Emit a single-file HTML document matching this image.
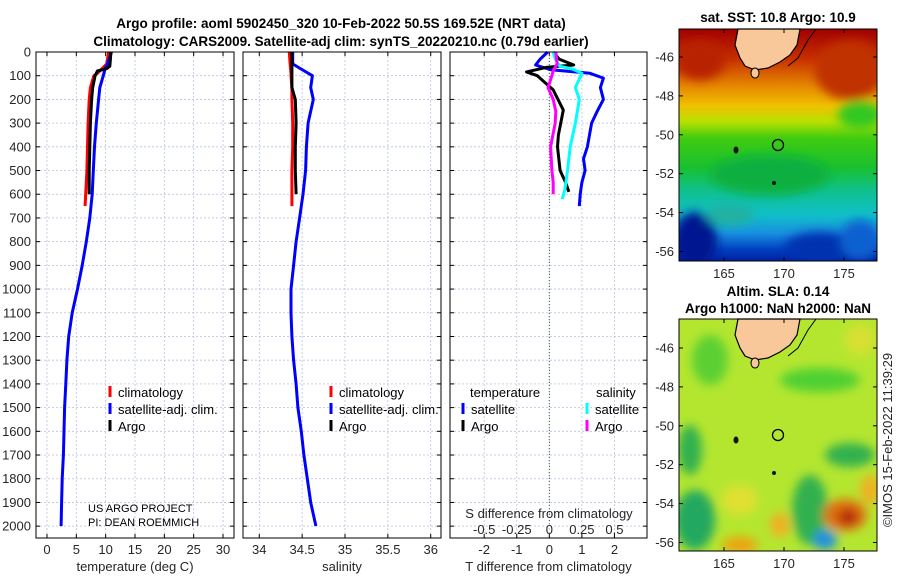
<!DOCTYPE html>
<html><head><meta charset="utf-8">
<style>
body{margin:0;background:#fff;}
svg{display:block;font-family:"Liberation Sans",sans-serif;}
.tk{font-size:13px;fill:#262626;}
.ttl{font-size:13.5px;font-weight:bold;fill:#000;}
.lg{font-size:13px;fill:#000;}
</style></head>
<body>
<svg id="fig" width="900" height="580" viewBox="0 0 900 580">
<defs>
<linearGradient id="sstg" x1="0" y1="0" x2="0" y2="1">
<stop offset="0" stop-color="#a00000"/><stop offset="0.13" stop-color="#c83000"/>
<stop offset="0.24" stop-color="#e48400"/><stop offset="0.33" stop-color="#f0c000"/>
<stop offset="0.40" stop-color="#b8e000"/><stop offset="0.47" stop-color="#40cc10"/>
<stop offset="0.60" stop-color="#18c030"/><stop offset="0.70" stop-color="#10c090"/>
<stop offset="0.80" stop-color="#10c0c8"/><stop offset="0.88" stop-color="#1890e0"/>
<stop offset="0.95" stop-color="#0040c0"/><stop offset="1" stop-color="#0020a0"/>
</linearGradient>
<filter id="blur"><feGaussianBlur stdDeviation="5"/></filter>
<clipPath id="cm1"><rect x="679" y="29" width="198" height="232"/></clipPath>
<clipPath id="cm2"><rect x="679" y="319" width="198" height="232"/></clipPath>
</defs>
<text class="ttl" x="341" y="28" text-anchor="middle">Argo profile: aoml 5902450_320 10-Feb-2022 50.5S 169.52E (NRT data)</text>
<text class="ttl" x="341" y="46" text-anchor="middle">Climatology: CARS2009. Satellite-adj clim: synTS_20220210.nc (0.79d earlier)</text>
<g id="panels"></g>

<!-- SST map -->
<g>
<text class="ttl" x="778" y="22" text-anchor="middle">sat. SST: 10.8 Argo: 10.9</text>
<g clip-path="url(#cm1)">
<rect x="679" y="29" width="198" height="232" fill="url(#sstg)"/>
<g filter="url(#blur)">
<ellipse cx="850" cy="70" rx="35" ry="30" fill="#c03000"/>
<ellipse cx="700" cy="60" rx="25" ry="20" fill="#b82000"/>
<ellipse cx="860" cy="115" rx="22" ry="14" fill="#30c820"/>
<ellipse cx="695" cy="240" rx="22" ry="28" fill="#001890"/>
<ellipse cx="820" cy="248" rx="35" ry="16" fill="#0030b0"/>
<ellipse cx="860" cy="240" rx="20" ry="20" fill="#1060d0"/>
<ellipse cx="770" cy="175" rx="60" ry="20" fill="#10b040"/>
<ellipse cx="730" cy="215" rx="25" ry="10" fill="#20b0a0"/>
</g>
</g>
<path d="M738,29 L800,29 L797,45 L790,55 L780,62 L768,68 L755,70 L745,66 L740,58 L735,45 Z" fill="#f9c89a" stroke="#000" stroke-width="1.2"/>
<path d="M800,29 L816,29 L808,40 L798,58 L788,66" fill="none" stroke="#000" stroke-width="1"/>
<ellipse cx="755" cy="73" rx="4" ry="5" fill="#f9c89a" stroke="#000"/>
<ellipse cx="736" cy="150" rx="2.5" ry="3.5" fill="#111"/>
<circle cx="774" cy="183" r="2" fill="#111"/>
<circle cx="778" cy="145" r="5.5" fill="none" stroke="#000" stroke-width="1.3"/>
<rect x="679" y="29" width="198" height="232" fill="none" stroke="#000" stroke-width="1"/>
</g>

<!-- SLA map -->
<g>
<text class="ttl" x="778" y="296" text-anchor="middle">Altim. SLA: 0.14</text>
<text class="ttl" x="778" y="313" text-anchor="middle">Argo h1000: NaN h2000: NaN</text>
<g clip-path="url(#cm2)">
<rect x="679" y="319" width="198" height="232" fill="#b4e630"/>
<g filter="url(#blur)">
<ellipse cx="710" cy="360" rx="18" ry="25" fill="#5cd030"/>
<ellipse cx="820" cy="380" rx="40" ry="12" fill="#50d030"/>
<ellipse cx="860" cy="340" rx="15" ry="15" fill="#d8e030"/>
<ellipse cx="690" cy="450" rx="12" ry="25" fill="#30b050"/>
<ellipse cx="695" cy="520" rx="20" ry="30" fill="#20a860"/>
<ellipse cx="850" cy="455" rx="25" ry="12" fill="#30b050"/>
<ellipse cx="810" cy="510" rx="18" ry="35" fill="#30b050"/>
<ellipse cx="845" cy="515" rx="22" ry="16" fill="#e07010"/>
<ellipse cx="848" cy="517" rx="10" ry="8" fill="#b02008"/>
<ellipse cx="825" cy="540" rx="12" ry="10" fill="#2090e0"/>
<ellipse cx="740" cy="545" rx="18" ry="8" fill="#f0a010"/>
<ellipse cx="780" cy="525" rx="10" ry="12" fill="#f0b020"/>
<ellipse cx="870" cy="490" rx="10" ry="15" fill="#f0b020"/>
<ellipse cx="740" cy="500" rx="18" ry="15" fill="#e0e030"/>
</g>
</g>
<path d="M738,319 L800,319 L797,335 L790,345 L780,352 L768,358 L755,360 L745,356 L740,348 L735,335 Z" fill="#f9c89a" stroke="#000" stroke-width="1.2"/>
<path d="M800,319 L816,319 L808,330 L798,348 L788,356" fill="none" stroke="#000" stroke-width="1"/>
<ellipse cx="755" cy="363" rx="4" ry="5" fill="#f9c89a" stroke="#000"/>
<ellipse cx="736" cy="440" rx="2.5" ry="3.5" fill="#111"/>
<circle cx="774" cy="473" r="2" fill="#111"/>
<circle cx="778" cy="435" r="5.5" fill="none" stroke="#000" stroke-width="1.3"/>
<rect x="679" y="319" width="198" height="232" fill="none" stroke="#000" stroke-width="1"/>
</g>
<text class="tk" transform="translate(892,440) rotate(-90)" text-anchor="middle">©IMOS 15-Feb-2022 11:39:29</text>
<g id="maps-axes"></g>
</svg>
<script>
// ---- data ----
const depthTicks=[0,100,200,300,400,500,600,700,800,900,1000,1100,1200,1300,1400,1500,1600,1700,1800,1900,2000];
const tempTicks=[0,5,10,15,20,25,30];
const salTicks=[34,34.5,35,35.5,36];
const salTickLabels=["34","34.5","35","35.5","36"];
const dTTicks=[-2,-1,0,1,2];
const dSTickLabels=["-0.5","-0.25","0","0.25","0.5"];
const dSTicks=[-0.5,-0.25,0,0.25,0.5];

const argoDepth=[0,30,60,70,80,100,150,200,300,400,500,600];
const argoTemp=[10.9,10.8,10.7,10.2,8.6,8.2,7.8,7.6,7.4,7.3,7.2,7.2];
const argoSal=[34.38,34.38,34.38,34.38,34.38,34.38,34.38,34.42,34.43,34.42,34.42,34.43];
const climDepth=[0,50,90,100,150,200,300,400,500,600,650];
const climTemp=[10.5,10.2,8.6,8.0,7.4,7.2,7.0,6.9,6.8,6.6,6.5];
const climSal=[34.35,34.36,34.37,34.37,34.38,34.38,34.39,34.39,34.38,34.38,34.38];
const satDepth=[0,50,70,100,150,200,300,400,500,600,700,800,900,1000,1100,1200,1300,1400,1500,1600,1700,1800,1900,2000];
const satTemp=[11.0,10.3,9.9,9.6,9.0,8.8,8.4,8.1,7.9,7.7,7.3,6.7,6.0,5.2,4.3,3.7,3.4,3.2,3.0,2.9,2.8,2.6,2.5,2.4];
const satSal=[34.39,34.39,34.48,34.62,34.60,34.63,34.57,34.55,34.54,34.51,34.47,34.43,34.40,34.37,34.37,34.38,34.40,34.43,34.45,34.49,34.52,34.56,34.60,34.66];

const dDepthA=[0,30,55,65,84,100,160,245,350,400,500,550,590];
const dTArgo=[0.12,0.3,0.75,-0.1,-0.7,-0.37,0.12,0.43,0.28,0.25,0.33,0.5,0.6];
const dDepthS=[0,30,55,75,90,110,150,200,250,300,400,450,500,550,600,650];
const dTSat=[-0.05,-0.28,-0.42,0.05,1.25,1.66,1.57,1.66,1.47,1.3,1.17,1.05,1.1,1.0,0.95,0.92];
const dSDepthS=[0,30,60,72,90,150,200,300,400,500,580,620];
const dSSat=[0.03,0.045,0.08,0.18,0.25,0.2,0.23,0.2,0.16,0.14,0.12,0.1];
const dSDepthA=[0,50,80,100,150,200,250,300,400,500,550,600];
const dSArgo=[0.05,0.06,0.03,0.02,-0.01,0.03,0.05,0.045,0.01,0.02,0.03,0.03];

const latTicks=[-46,-48,-50,-52,-54,-56];
const lonTicks=[165,170,175];

// ---- helpers ----
const NS="http://www.w3.org/2000/svg";
const root=document.getElementById('panels');
function el(tag,attrs,parent){const e=document.createElementNS(NS,tag);for(const k in attrs)e.setAttribute(k,attrs[k]);(parent||root).appendChild(e);return e;}
const Y0=52,Y1=538,DMAX=2050;
const yD=d=>Y0+d*(Y1-Y0)/DMAX;
function mkX(x0,x1,v0,v1){return v=>x0+(v-v0)*(x1-x0)/(v1-v0);}
const panels=[
 {x0:36,x1:234,v0:-1.87,v1:31.87,ticks:tempTicks,labels:tempTicks.map(String),xl:"temperature (deg C)",name:"temperature-panel"},
 {x0:243,x1:441,v0:33.81,v1:36.12,ticks:salTicks,labels:salTickLabels,xl:"salinity",name:"salinity-panel"},
 {x0:450,x1:647,v0:-3.05,v1:3.0,ticks:dTTicks,labels:dTTicks.map(String),xl:"T difference from climatology",name:"difference-panel"}
];
panels.forEach((p,i)=>{
 p.x=mkX(p.x0,p.x1,p.v0,p.v1);
 const g=el('g',{});
 
 
 p.g=g;
 el('rect',{x:p.x0,y:Y0,width:p.x1-p.x0,height:Y1-Y0,fill:'#fff'},g);
 depthTicks.forEach(d=>{el('line',{x1:p.x0,x2:p.x1,y1:yD(d),y2:yD(d),stroke:'#b8c0e0','stroke-width':0.8,'stroke-dasharray':'2,2'},g);
   el('line',{x1:p.x0,x2:p.x0+4,y1:yD(d),y2:yD(d),stroke:'#000'},g);el('line',{x1:p.x1,x2:p.x1-4,y1:yD(d),y2:yD(d),stroke:'#000'},g);});
 p.ticks.forEach((t,j)=>{const x=p.x(t);
   el('line',{x1:x,x2:x,y1:Y0,y2:Y1,stroke:'#b8c0e0','stroke-width':0.8,'stroke-dasharray':'2,2'},g);
   el('line',{x1:x,x2:x,y1:Y1,y2:Y1-4,stroke:'#000'},g);el('line',{x1:x,x2:x,y1:Y0,y2:Y0+4,stroke:'#000'},g);
   const t2=el('text',{x:x,y:554,'text-anchor':'middle',class:'tk'},g);t2.textContent=p.labels[j];
   
   });
 const xl=el('text',{x:(p.x0+p.x1)/2,y:571,'text-anchor':'middle',class:'tk'},g);xl.textContent=p.xl;
 
 
});
depthTicks.forEach(d=>{const t=el('text',{x:31,y:yD(d)+4.5,'text-anchor':'end',class:'tk'});t.textContent=d;
 
 });

function line(p,vals,depths,color,name,xf){
 const f=xf||p.x;
 const pts=vals.map((v,i)=>f(v).toFixed(1)+','+yD(depths[i]).toFixed(1)).join(' ');
 const pl=el('polyline',{points:pts,fill:'none',stroke:color,'stroke-width':3,'stroke-linejoin':'round'},p.g);
 
 
}
const [pT,pS,pD]=panels;
line(pT,climTemp,climDepth,'#ff0000','temp-climatology-line');
line(pT,satTemp,satDepth,'#0000ff','temp-satellite-line');
line(pT,argoTemp,argoDepth,'#000','temp-argo-line');
line(pS,climSal,climDepth,'#ff0000','sal-climatology-line');
line(pS,satSal,satDepth,'#0000ff','sal-satellite-line');
line(pS,argoSal,argoDepth,'#000','sal-argo-line');
const zx=pD.x(0);
el('line',{x1:zx,x2:zx,y1:Y0,y2:yD(1990),stroke:'#406040','stroke-width':1,'stroke-dasharray':'1,2'},pD.g);
const xS=v=>pD.x(v*4);
line(pD,dTSat,dDepthS,'#0000ff','dT-satellite-line');
line(pD,dTArgo,dDepthA,'#000','dT-argo-line');
line(pD,dSSat,dSDepthS,'#00ffff','dS-satellite-line',xS);
line(pD,dSArgo,dSDepthA,'#ff00ff','dS-argo-line',xS);
panels.forEach(p=>el('rect',{x:p.x0,y:Y0,width:p.x1-p.x0,height:Y1-Y0,fill:'none',stroke:'#000','stroke-width':1},p.g));
// S axis inside diff panel
const st=el('text',{x:549,y:518,'text-anchor':'middle',class:'tk'},pD.g);st.textContent='S difference from climatology';


dSTicks.forEach((v,j)=>{const t=el('text',{x:xS(v),y:534,'text-anchor':'middle',class:'tk'},pD.g);t.textContent=dSTickLabels[j];
 
 });
// legends
function leg(g,x,y,color,label){
 const l=el('line',{x1:x,x2:x,y1:y-11,y2:y,stroke:color,'stroke-width':3},g);
 const t=el('text',{x:x+8,y:y,class:'lg'},g);t.textContent=label;
 
 
}
leg(pT.g,110,397,'#ff0000','climatology');leg(pT.g,110,414,'#0000ff','satellite-adj. clim.');leg(pT.g,110,431,'#000','Argo');
leg(pS.g,331,397,'#ff0000','climatology');leg(pS.g,331,414,'#0000ff','satellite-adj. clim.');leg(pS.g,331,431,'#000','Argo');
let t=el('text',{x:470,y:397,class:'lg'},pD.g);t.textContent='temperature';
t=el('text',{x:596,y:397,class:'lg'},pD.g);t.textContent='salinity';
leg(pD.g,463,414,'#0000ff','satellite');leg(pD.g,463,431,'#000','Argo');
leg(pD.g,587,414,'#00ffff','satellite');leg(pD.g,587,431,'#ff00ff','Argo');
t=el('text',{x:88,y:512,class:'lg','font-size':'11'},pT.g);t.textContent='US ARGO PROJECT';t.setAttribute('style','font-size:11px');
t=el('text',{x:88,y:526,class:'lg'},pT.g);t.textContent='PI: DEAN ROEMMICH';t.setAttribute('style','font-size:11px');
// map axes
const ma=document.getElementById('maps-axes');
const lonX=v=>724+(v-165)*12;
[[29,57],[319,348]].forEach(([top,y46])=>{
 const latY=v=>y46+(-46-v)*19.45;
 latTicks.forEach(v=>{const y=latY(v);
  el('line',{x1:679,x2:683,y1:y,y2:y,stroke:'#000'},ma);el('line',{x1:877,x2:873,y1:y,y2:y,stroke:'#000'},ma);
  const tx=el('text',{x:674,y:y+4.5,'text-anchor':'end',class:'tk'},ma);tx.textContent=v;
  
  });
 lonTicks.forEach(v=>{const x=lonX(v);
  el('line',{x1:x,x2:x,y1:top+232,y2:top+228,stroke:'#000'},ma);el('line',{x1:x,x2:x,y1:top,y2:top+4,stroke:'#000'},ma);
  const tx=el('text',{x:x,y:top+249,'text-anchor':'middle',class:'tk'},ma);tx.textContent=v;
  
  });
});
</script>
</body></html>
